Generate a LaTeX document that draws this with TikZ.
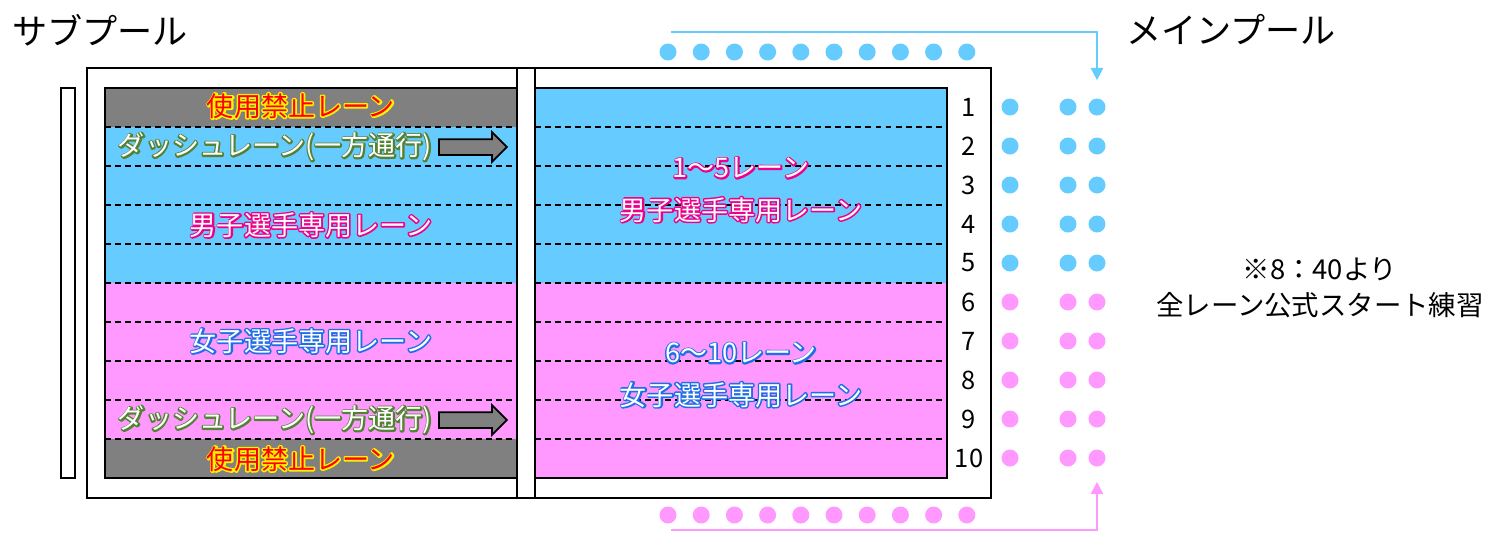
\documentclass[tikz,border=0pt]{standalone}
\usepackage{fontspec}
\setmainfont{Noto Sans CJK JP}
\definecolor{laneblue}{RGB}{102, 204, 255}
\definecolor{lanepink}{RGB}{255, 153, 255}
\definecolor{lanegray}{RGB}{128, 128, 128}
\definecolor{dashgreen}{RGB}{84, 130, 53}
\definecolor{glowblue}{RGB}{30, 110, 230}
\usetikzlibrary{shapes.arrows, arrows.meta, positioning}

% outlined text: stroke in the glow colour, plain fill on top
\newcommand{\glowlabel}[3]{\leavevmode\rlap{\color{#1}\special{pdf:literal direct 2 Tr 1.7 w 1 j}#3\special{pdf:literal direct 0 Tr 1 w}}\textcolor{#2}{#3}}

\tikzset{
  lanelabel/.style={font=\fontsize{15.4}{24}\selectfont, inner sep=0pt, align=center},
  dashblock/.style={single arrow, draw=black, line width=1pt, fill=lanegray, minimum height=1.36cm, single arrow head extend=0.14cm, inner sep=0pt},
  dotnode/.style={circle, inner sep=0pt, minimum size=0.34cm},
  lanenum/.style={font=\fontsize{14.5}{16}\selectfont, inner sep=0pt},
  poolfeed/.style={line width=1.1pt, -{Triangle[width=7pt, length=7pt]}},
  divider/.style={dashed, dash pattern=on 3.4pt off 2.3pt, line width=0.8pt}
}

\begin{document}
\begin{tikzpicture}[x=0.02cm, y=-0.02cm]
  \useasboundingbox (0,0) rectangle (1490,532);

  % Titles
  \node[font=\fontsize{20}{24}\selectfont] (subtitle) at (100,30) {サブプール};
  \node[font=\fontsize{20}{24}\selectfont] (maintitle) at (1231,30) {メインプール};

  % Pool frame
  \draw[line width=1.1pt] (87,68) rectangle (991,498);
  \draw[line width=1.1pt] (61,88) rectangle (75,478);

  % Sub pool lanes
  \fill[lanegray] (105,88) rectangle (517,127);
  \fill[laneblue] (105,127) rectangle (517,283);
  \fill[lanepink] (105,283) rectangle (517,439);
  \fill[lanegray] (105,439) rectangle (517,478);

  % Main pool lanes
  \fill[laneblue] (535,88) rectangle (947,283);
  \fill[lanepink] (535,283) rectangle (947,478);

  \foreach \y in {127,166,...,439} {
    \draw[divider] (105,\y) -- (517,\y);
    \draw[divider] (535,\y) -- (947,\y);
  }
  \draw[line width=0.8pt] (105,88) rectangle (517,478);
  \draw[line width=0.8pt] (535,88) rectangle (947,478);
  \draw[line width=0.8pt] (517,68) -- (517,498) (535,68) -- (535,498);

  % Lane numbers and start dots
  \foreach \i in {1,...,10} {
    \pgfmathtruncatemacro\yy{107+39*(\i-1)}
    \ifnum\i<6 \def\dotcol{laneblue}\else\def\dotcol{lanepink}\fi
    \node[lanenum] (num-\i) at (969,\yy) {\i};
    \node[dotnode, fill=\dotcol] (dot-\i-1) at (1010,\yy) {};
    \node[dotnode, fill=\dotcol] (dot-\i-2) at (1068,\yy) {};
    \node[dotnode, fill=\dotcol] (dot-\i-3) at (1097,\yy) {};
  }

  % Waiting rows
  \foreach \k in {0,...,9} {
    \node[dotnode, fill=laneblue] (topdot-\k) at ({668+33.2*\k},52) {};
    \node[dotnode, fill=lanepink] (botdot-\k) at ({668+33.2*\k},515) {};
  }

  \coordinate (bluefeed) at (671,32);
  \coordinate (pinkfeed) at (671,530);
  \draw[poolfeed, draw=laneblue, shorten >=0.36cm] (bluefeed) -| (dot-1-3.north);
  \draw[poolfeed, draw=lanepink, shorten >=0.3cm] (pinkfeed) -| (dot-10-3.south);

  % Sub pool labels
  \node[lanelabel] (closedtop) at (301,106) {\glowlabel{yellow}{red}{使用禁止レーン}};
  \node[lanelabel] (dashtop) at (275,147) {\glowlabel{dashgreen}{white}{ダッシュレーン(一方通行)}};
  \node[dashblock] (dashtoparrow) at (469,147) {\rule{0pt}{0.28cm}};
  \node[lanelabel] (submen) at (311,225) {\glowlabel{magenta}{white}{男子選手専用レーン}};
  \node[lanelabel] (subwomen) at (311,341) {\glowlabel{glowblue}{white}{女子選手専用レーン}};
  \node[lanelabel] (dashbot) at (275,420) {\glowlabel{dashgreen}{white}{ダッシュレーン(一方通行)}};
  \node[dashblock] (dashbotarrow) at (469,420) {\rule{0pt}{0.28cm}};
  \node[lanelabel] (closedbot) at (301,459) {\glowlabel{yellow}{red}{使用禁止レーン}};

  % Main pool labels
  \node[lanelabel] (mainmen) at (741,190) {\glowlabel{magenta}{white}{1〜5レーン}\\\glowlabel{magenta}{white}{男子選手専用レーン}};
  \node[lanelabel] (mainwomen) at (741,375) {\glowlabel{glowblue}{white}{6〜10レーン}\\\glowlabel{glowblue}{white}{女子選手専用レーン}};

  % Note
  \node[font=\fontsize{15.6}{20.5}\selectfont, align=center] (note) at (1320,288) {※8：40より\\全レーン公式スタート練習};
\end{tikzpicture}
\end{document}
